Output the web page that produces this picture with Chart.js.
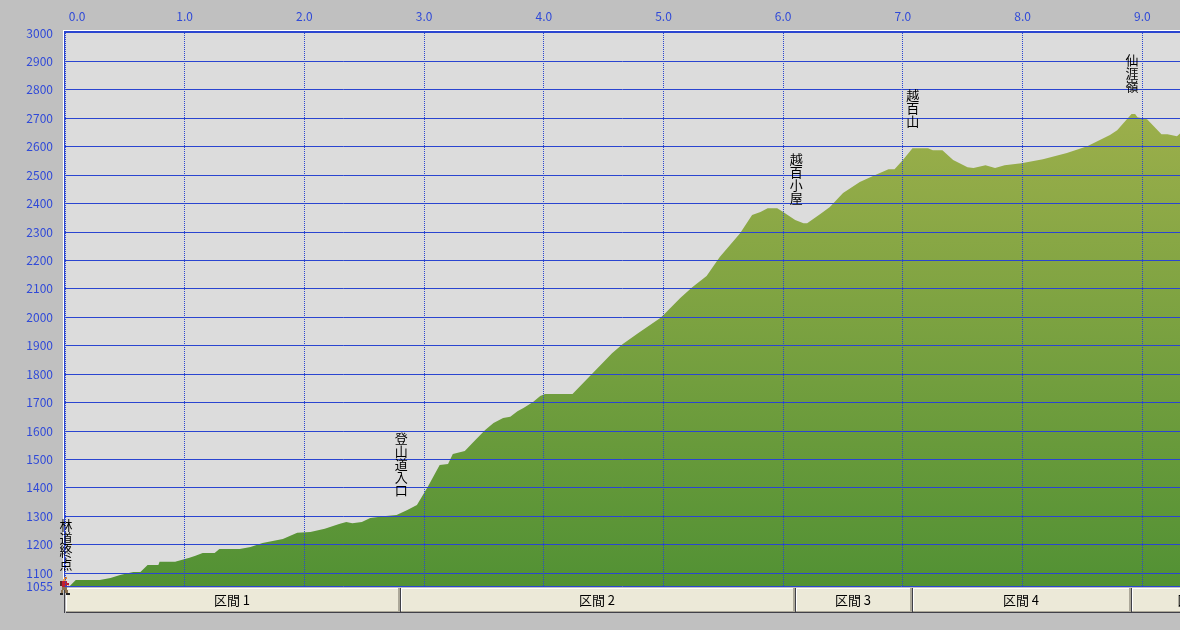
<!DOCTYPE html>
<html>
<head>
<meta charset="utf-8">
<title>profile</title>
<script src="https://cdn.jsdelivr.net/npm/chart.js@4"></script>
<style>
    html, body { margin: 0; padding: 0; background: #c0c0c0; overflow: hidden; }
    canvas { display: block; }
</style>
</head>
<body>
<canvas id="profile" width="1180" height="630"></canvas>
<script>
// distance (km) and elevation (m)
const distances = [0, 0.04, 0.09, 0.29, 0.38, 0.46, 0.57, 0.63, 0.69, 0.78, 0.79, 0.92, 1.04, 1.09, 1.15, 1.25, 1.29, 1.46, 1.55, 1.65, 1.82, 1.94, 2.05, 2.17, 2.29, 2.35, 2.40, 2.48, 2.55, 2.68, 2.77, 2.86, 2.94, 2.99, 3.03, 3.13, 3.20, 3.24, 3.34, 3.41, 3.51, 3.58, 3.66, 3.72, 3.78, 3.83, 3.91, 3.97, 4.01, 4.24, 4.41, 4.57, 4.66, 4.79, 4.97, 5.0, 5.14, 5.24, 5.36, 5.47, 5.64, 5.74, 5.81, 5.87, 5.95, 6.0, 6.10, 6.17, 6.20, 6.31, 6.39, 6.50, 6.64, 6.75, 6.88, 6.93, 7.0, 7.08, 7.21, 7.25, 7.33, 7.42, 7.54, 7.59, 7.69, 7.77, 7.85, 7.99, 8.17, 8.37, 8.54, 8.73, 8.79, 8.91, 8.94, 8.96, 9.04, 9.16, 9.21, 9.29, 9.32]
const elevations = [1055, 1055, 1076, 1076, 1083, 1094, 1104, 1104, 1129, 1129, 1140, 1140, 1154, 1161, 1171, 1171, 1185, 1185, 1192, 1206, 1220, 1242, 1245, 1256, 1273, 1280, 1276, 1280, 1294, 1301, 1305, 1322, 1340, 1375, 1403, 1481, 1484, 1519, 1530, 1561, 1604, 1628, 1646, 1650, 1670, 1681, 1702, 1723, 1730, 1730, 1804, 1874, 1906, 1945, 1997, 2008, 2068, 2106, 2145, 2212, 2296, 2360, 2370, 2384, 2384, 2370, 2342, 2331, 2331, 2363, 2388, 2437, 2476, 2497, 2521, 2521, 2553, 2595, 2595, 2588, 2588, 2553, 2528, 2525, 2535, 2525, 2535, 2542, 2556, 2578, 2602, 2641, 2658, 2715, 2715, 2704, 2697, 2644, 2644, 2637, 2648]

const elevationTicks = [1055, 1100, 1200, 1300, 1400, 1500, 1600, 1700, 1800, 1900, 2000, 2100, 2200, 2300, 2400, 2500, 2600, 2700, 2800, 2900, 3000]
const distanceTicks = [0, 1, 2, 3, 4, 5, 6, 7, 8, 9]

const placeNames = ['林道終点', '登山道入口', '越百小屋', '越百山', '仙涯嶺']
const placeKm = [0, 2.80, 6.10, 7.075, 8.905]
const placeLabelTop = [1295, 1600, 2581, 2806, 2929]

const sectionNames = ['区間 1', '区間 2', '区間 3', '区間 4', '区間 5']
const sectionEnds = [0, 2.80, 6.10, 7.075, 8.905, 9.99]

const BLUE = '#2a45d0'
const LABEL_BLUE = '#2f49d8'
const FONT = '"Noto Sans CJK JP", "Liberation Sans", sans-serif'

// little walker that sits at the start of the route
const makeWalker = () =>{
    const c = document.createElement('canvas')
    c.width = 12
    c.height = 18
    const g = c.getContext('2d')
    const px = (col, x, y, w, h) =>{
        g.fillStyle = col
        g.fillRect(x, y, w, h)
    }
    px('#e8862a', 5, 0, 3, 2)
    px('#f0a050', 4, 2, 3, 2)
    px('#5a2a2a', 1, 4, 3, 5)
    px('#c02030', 3, 4, 5, 6)
    px('#c02030', 8, 6, 2, 2)
    px('#e8b090', 9, 8, 1, 2)
    px('#8a7050', 3, 10, 5, 3)
    px('#8a7050', 2, 13, 2, 3)
    px('#8a7050', 6, 13, 3, 3)
    px('#202020', 1, 16, 3, 2)
    px('#202020', 7, 16, 4, 2)
    return c
}

// plot background and the white/blue frame
const framePlugin = {
    id: 'frame',
    beforeDraw(chart){
        const { ctx, chartArea: a } = chart
        ctx.save()
        ctx.fillStyle = '#dcdcdc'
        ctx.fillRect(a.left, a.top, a.right - a.left, a.bottom - a.top)
        ctx.fillStyle = '#ffffff'
        ctx.fillRect(a.left - 2, a.top - 3, a.right - a.left + 2, 1)
        ctx.fillRect(a.left - 2, a.top - 3, 1, a.bottom - a.top + 3)
        ctx.fillStyle = BLUE
        ctx.fillRect(a.left - 1, a.top - 2, a.right - a.left + 1, 2)
        ctx.fillRect(a.left - 1, a.top - 2, 1, a.bottom - a.top + 2)
        ctx.restore()
    }
}

// section bar under the plot
const sectionPlugin = {
    id: 'sections',
    beforeDatasetsDraw(chart){
        const { ctx, scales } = chart
        const top = 588
        const bottom = 613
        ctx.save()
        ctx.fillStyle = '#404048'
        ctx.fillRect(64, top - 1, 1, bottom - top + 1)
        sectionNames.forEach((name, i) =>{
            const x0 = Math.round(scales.x.getPixelForValue(sectionEnds[i])) + 1
            const x1 = Math.round(scales.x.getPixelForValue(sectionEnds[i + 1]))
            ctx.fillStyle = '#ece9d8'
            ctx.fillRect(x0, top, x1 - x0, bottom - top)
            ctx.fillStyle = '#ffffff'
            ctx.fillRect(x0, top, x1 - x0, 1)
            ctx.fillRect(x0, top, 1, bottom - top)
            ctx.fillStyle = '#aca899'
            ctx.fillRect(x0, bottom - 2, x1 - x0, 2)
            ctx.fillRect(x1 - 2, top, 2, bottom - top)
            ctx.fillStyle = '#404048'
            ctx.fillRect(x0, bottom - 1, x1 - x0 + 1, 1)
            ctx.fillRect(x1, top, 1, bottom - top)
            ctx.fillStyle = '#000000'
            ctx.font = '13px ' + FONT
            ctx.textAlign = 'center'
            ctx.textBaseline = 'middle'
            ctx.fillText(name, (x0 + x1) / 2 - 1, 600)
        })
        ctx.restore()
    }
}

// place names, written top to bottom
const placePlugin = {
    id: 'places',
    afterDraw(chart){
        const { ctx, scales } = chart
        ctx.save()
        ctx.fillStyle = '#000000'
        ctx.font = '13px ' + FONT
        ctx.textAlign = 'center'
        ctx.textBaseline = 'middle'
        placeNames.forEach((name, i) =>{
            const x = scales.x.getPixelForValue(placeKm[i]) + 1
            const y = scales.y.getPixelForValue(placeLabelTop[i])
            Array.from(name).forEach((ch, n) =>{
                ctx.fillText(ch, x, y + 7 + n * 13)
            })
        })
        ctx.restore()
    }
}

const ctx = document.getElementById('profile').getContext('2d')

const fill = ctx.createLinearGradient(0, 114, 0, 586)
fill.addColorStop(0, 'rgb(156,175,75)')
fill.addColorStop(1, 'rgb(82,145,52)')

const chart = new Chart(ctx, {
    type: 'line',
    data: {
        datasets: [{
            data: distances.map((d, i) => ({ x: d, y: elevations[i] })),
            backgroundColor: fill,
            borderWidth: 0,
            pointRadius: 0,
            tension: 0,
            fill: 'start'
        }, {
            data: [{ x: placeKm[0], y: elevations[0] }],
            pointStyle: makeWalker(),
            pointRadius: 9,
            showLine: false,
            clip: false
        }]
    },
    options: {
        responsive: false,
        animation: false,
        events: [],
        // no room kept for the last label, the plot runs off the right edge
        layout: { autoPadding: false, padding: { left: 0, right: 0, top: 0, bottom: 44 } },
        plugins: {
            legend: { display: false },
            tooltip: { enabled: false },
            title: { display: false }
        },
        scales: {
            x: {
                type: 'linear',
                position: 'top',
                min: 0,
                max: 9.315,
                afterFit: (s) => {
                    s.height = 33
                    s.paddingLeft = 0
                    s.paddingRight = 0
                },
                afterBuildTicks: (s) => { s.ticks = distanceTicks.map(v => ({ value: v })) },
                border: { display: false, dash: [1, 1] },
                grid: {
                    z: 1,
                    color: BLUE,
                    lineWidth: 1,
                    drawTicks: false
                },
                ticks: {
                    autoSkip: false,
                    maxRotation: 0,
                    padding: 9,
                    color: LABEL_BLUE,
                    font: { family: FONT, size: 12 },
                    // the first label sits to the right of its line
                    callback: (v) => v === 0 ? '         0.0' : v.toFixed(1)
                }
            },
            y: {
                type: 'linear',
                min: 1055,
                max: 3000,
                afterFit: (s) => { s.width = 65 },
                afterBuildTicks: (s) => { s.ticks = elevationTicks.map(v => ({ value: v })) },
                border: { display: false },
                grid: {
                    z: 1,
                    color: (c) => c.tick && c.tick.value === 3000 ? 'rgba(0,0,0,0)' : BLUE,
                    lineWidth: 1,
                    drawTicks: false
                },
                ticks: {
                    autoSkip: false,
                    padding: 12,
                    color: LABEL_BLUE,
                    font: { family: FONT, size: 12 },
                    callback: (v) => String(v)
                }
            }
        }
    },
    plugins: [framePlugin, sectionPlugin, placePlugin]
})
</script>
</body>
</html>
